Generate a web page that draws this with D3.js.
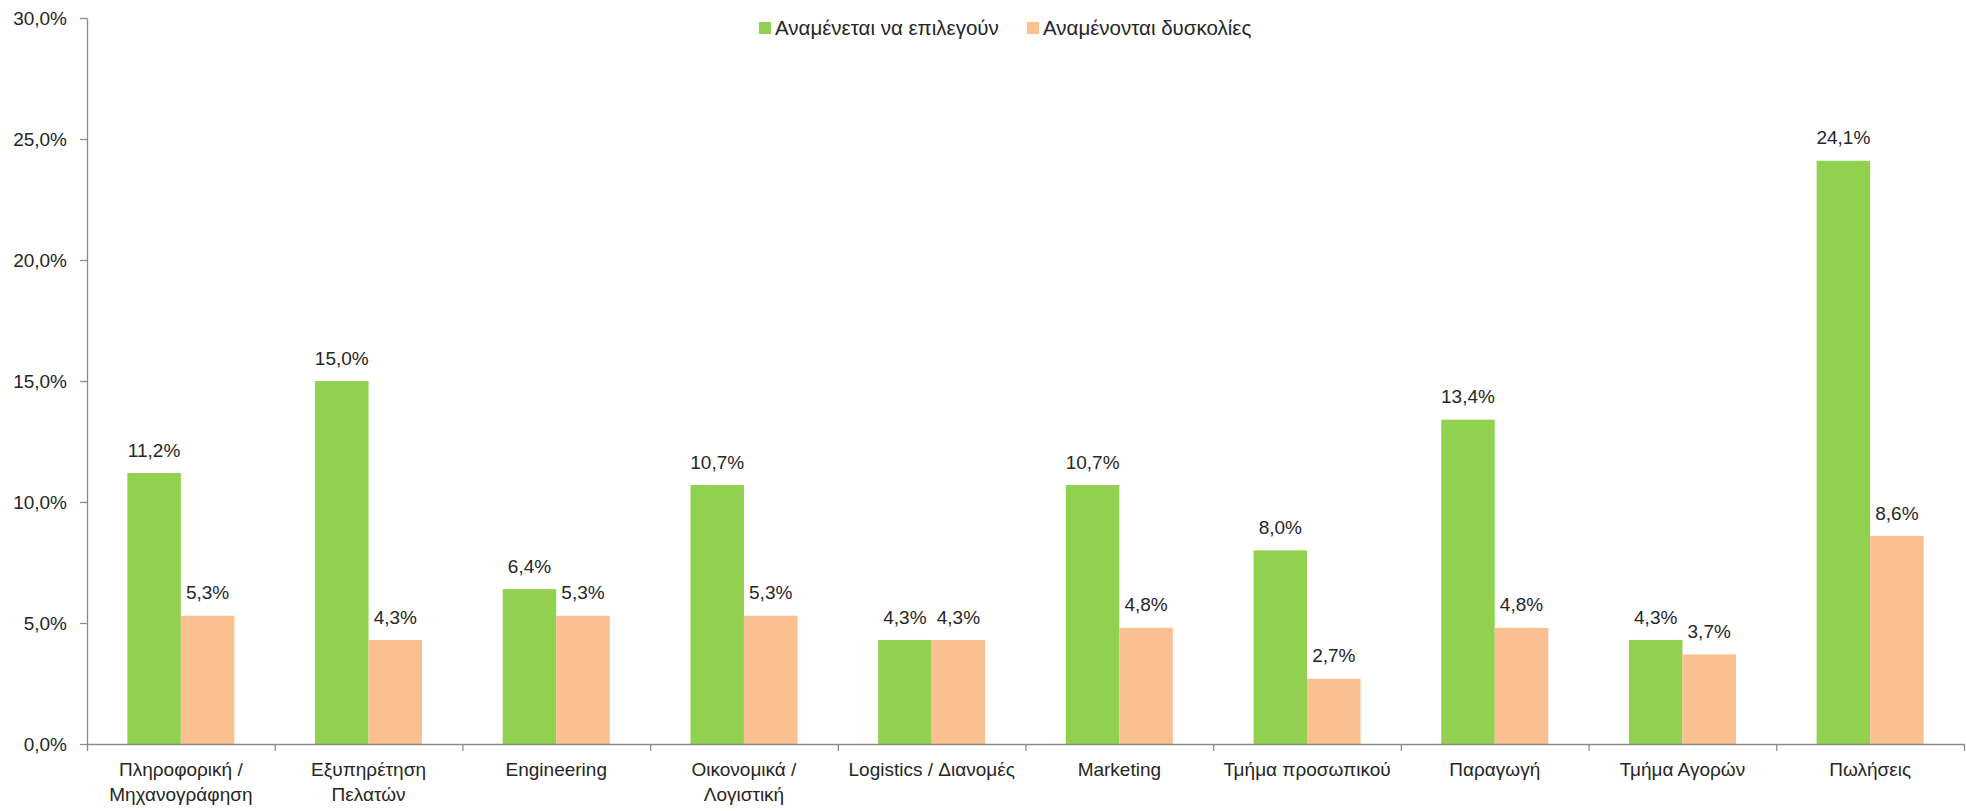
<!DOCTYPE html>
<html>
<head>
<meta charset="utf-8">
<script src="https://cdn.jsdelivr.net/npm/d3@7"></script>
<style>
  html, body { margin: 0; padding: 0; background: #ffffff; }
  svg { display: block; }
  text { font-family: "Liberation Sans", Arial, sans-serif; fill: #262626; }
</style>
</head>
<body>
<svg id="chart" width="1966" height="811"></svg>
<script>
// Department categories (line breaks mark where the axis label wraps)
const categories = [
  "Πληροφορική /\nΜηχανογράφηση",
  "Εξυπηρέτηση\nΠελατών",
  "Engineering",
  "Οικονομικά /\nΛογιστική",
  "Logistics / Διανομές",
  "Marketing",
  "Τμήμα προσωπικού",
  "Παραγωγή",
  "Τμήμα Αγορών",
  "Πωλήσεις"
];

const seriesNames = ["Αναμένεται να επιλεγούν", "Αναμένονται δυσκολίες"];
const expectedChoice = [11.2, 15.0, 6.4, 10.7, 4.3, 10.7, 8.0, 13.4, 4.3, 24.1];
const expectedDifficulty = [5.3, 4.3, 5.3, 5.3, 4.3, 4.8, 2.7, 4.8, 3.7, 8.6];
const yTicks = [0, 5, 10, 15, 20, 25, 30];

const colors = ["#92D050", "#FAC090"];
const axisColor = "#8c8c8c";

const svg = d3.select("#chart");
const margin = { left: 87, right: 2, top: 18, bottom: 67 };
const W = 1966, H = 811;
const plotLeft = margin.left, plotRight = W - margin.right;
const plotTop = margin.top, plotBottom = H - margin.bottom;

const locale = d3.formatLocale({ decimal: ",", thousands: ".", grouping: [3], currency: ["", "€"] });
const fmt = v => locale.format(".1f")(v) + "%";

const x = d3.scaleBand().domain(categories).range([plotLeft, plotRight]).padding(0);
const xSub = d3.scaleBand().domain(seriesNames).range([0, x.bandwidth()])
  .paddingInner(0).paddingOuter(0.754);
const y = d3.scaleLinear().domain([0, 30]).range([plotBottom, plotTop]);

const rows = categories.map((c, i) => ({
  category: c,
  values: [
    { series: seriesNames[0], value: expectedChoice[i], color: colors[0] },
    { series: seriesNames[1], value: expectedDifficulty[i], color: colors[1] }
  ]
}));

// Bars
const groups = svg.append("g").selectAll("g.grp").data(rows).join("g")
  .attr("class", "grp")
  .attr("transform", d => `translate(${x(d.category)},0)`);

groups.selectAll("rect").data(d => d.values).join("rect")
  .attr("x", d => xSub(d.series))
  .attr("y", d => y(d.value))
  .attr("width", xSub.bandwidth())
  .attr("height", d => y(0) - y(d.value))
  .attr("fill", d => d.color);

// Value labels above bars
groups.selectAll("text.val").data(d => d.values).join("text")
  .attr("class", "val")
  .attr("x", d => xSub(d.series) + xSub.bandwidth() / 2)
  .attr("y", d => y(d.value) - 23)
  .attr("dy", "0.35em")
  .attr("text-anchor", "middle")
  .attr("font-size", 19)
  .text(d => fmt(d.value));

// Y axis
const yAxis = svg.append("g")
  .attr("transform", `translate(${plotLeft},0)`)
  .call(d3.axisLeft(y).tickValues(yTicks).tickFormat(fmt).tickSize(7).tickSizeOuter(0).tickPadding(13));
yAxis.select(".domain").attr("stroke", axisColor).attr("stroke-width", 1.3);
yAxis.selectAll(".tick line").attr("stroke", axisColor).attr("stroke-width", 1.3);
yAxis.selectAll(".tick text").attr("font-size", 19).attr("fill", "#262626")
  .attr("font-family", "'Liberation Sans', Arial, sans-serif");

// X axis: ticks at category boundaries
const xEdges = d3.scaleLinear().domain([0, categories.length]).range([plotLeft, plotRight]);
const xAxis = svg.append("g")
  .attr("transform", `translate(0,${plotBottom})`)
  .call(d3.axisBottom(xEdges).tickValues(d3.range(categories.length + 1)).tickFormat("").tickSize(7).tickSizeOuter(0));
xAxis.select(".domain").attr("stroke", axisColor).attr("stroke-width", 1.3);
xAxis.selectAll(".tick line").attr("stroke", axisColor).attr("stroke-width", 1.3);

// Category labels
const catLabels = svg.append("g").selectAll("text").data(categories).join("text")
  .attr("x", d => x(d) + x.bandwidth() / 2)
  .attr("y", plotBottom + 25)
  .attr("dy", "0.35em")
  .attr("text-anchor", "middle")
  .attr("font-size", 19);
catLabels.selectAll("tspan").data(d => d.split("\n")).join("tspan")
  .attr("x", function() { return d3.select(this.parentNode).attr("x"); })
  .attr("dy", (d, i) => i === 0 ? "0.35em" : 25)
  .text(d => d);

// Legend
const legendItems = [
  { name: seriesNames[0], color: colors[0], x: 759 },
  { name: seriesNames[1], color: colors[1], x: 1027 }
];
const legend = svg.append("g").selectAll("g").data(legendItems).join("g")
  .attr("transform", d => `translate(${d.x},22)`);
legend.append("rect").attr("width", 12).attr("height", 12).attr("fill", d => d.color);
legend.append("text")
  .attr("x", 16).attr("y", 6).attr("dy", "0.35em")
  .attr("font-size", 20.5)
  .text(d => d.name);
</script>
</body>
</html>
